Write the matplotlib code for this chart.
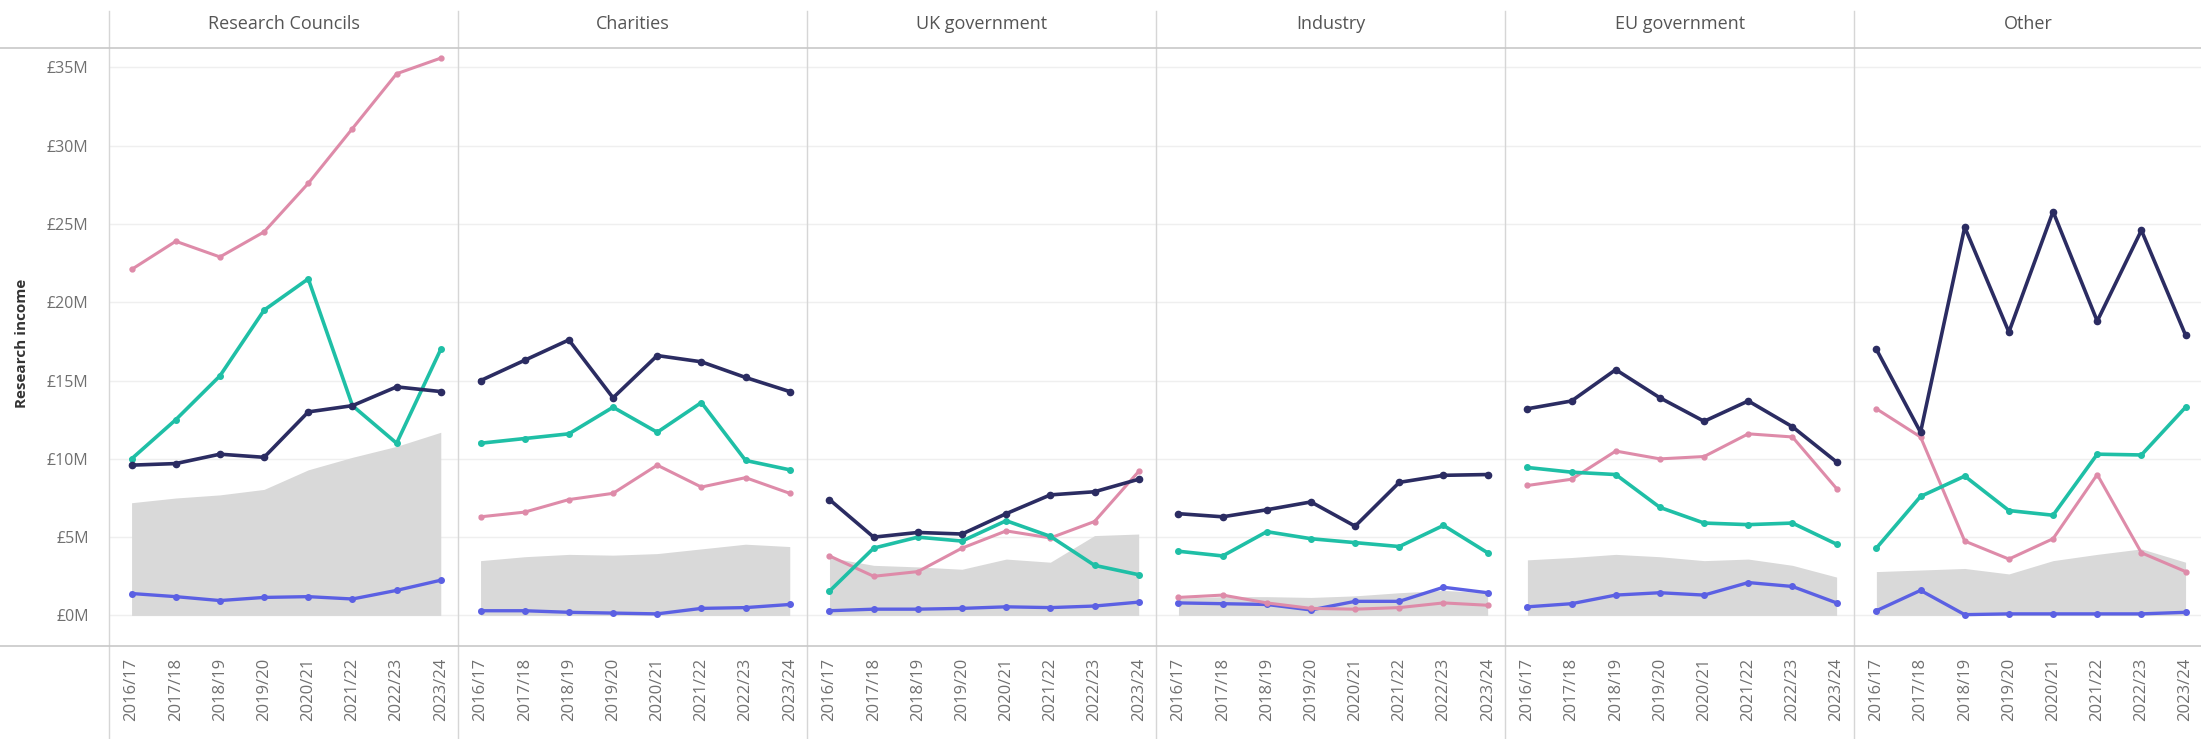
import matplotlib
matplotlib.use('Agg')
import matplotlib.pyplot as plt
from matplotlib.lines import Line2D

plt.rcParams['font.family'] = ['Open Sans', 'DejaVu Sans']

# Funding sources (one panel each) and years
panels = ['Research Councils', 'Charities', 'UK government', 'Industry', 'EU government', 'Other']
years = ['2016/17', '2017/18', '2018/19', '2019/20', '2020/21', '2021/22', '2022/23', '2023/24']

# Research income in £M, one list per panel (same order as panels)
pink_vals = [
    [22.1, 23.9, 22.9, 24.5, 27.6, 31.1, 34.6, 35.6],
    [6.3, 6.6, 7.4, 7.8, 9.6, 8.2, 8.8, 7.8],
    [3.8, 2.5, 2.8, 4.3, 5.4, 4.95, 6.0, 9.2],
    [1.15, 1.3, 0.8, 0.45, 0.4, 0.5, 0.8, 0.65],
    [8.3, 8.7, 10.5, 10.0, 10.15, 11.6, 11.4, 8.1],
    [13.2, 11.4, 4.75, 3.6, 4.9, 9.0, 4.0, 2.8],
]
teal_vals = [
    [10.0, 12.5, 15.3, 19.5, 21.5, 13.4, 11.0, 17.0],
    [11.0, 11.3, 11.6, 13.3, 11.7, 13.6, 9.9, 9.3],
    [1.55, 4.3, 5.0, 4.75, 6.05, 5.05, 3.2, 2.6],
    [4.1, 3.8, 5.35, 4.9, 4.65, 4.4, 5.75, 4.0],
    [9.45, 9.15, 9.0, 6.9, 5.9, 5.8, 5.9, 4.55],
    [4.3, 7.6, 8.9, 6.7, 6.4, 10.3, 10.25, 13.3],
]
navy_vals = [
    [9.6, 9.7, 10.3, 10.1, 13.0, 13.4, 14.6, 14.3],
    [15.0, 16.3, 17.6, 13.9, 16.6, 16.2, 15.2, 14.3],
    [7.4, 5.0, 5.3, 5.2, 6.5, 7.7, 7.9, 8.7],
    [6.5, 6.3, 6.75, 7.25, 5.7, 8.5, 8.95, 9.0],
    [13.2, 13.7, 15.7, 13.9, 12.4, 13.7, 12.05, 9.8],
    [17.0, 11.7, 24.8, 18.1, 25.8, 18.8, 24.6, 17.9],
]
blue_vals = [
    [1.4, 1.2, 0.95, 1.15, 1.2, 1.05, 1.6, 2.25],
    [0.3, 0.3, 0.2, 0.15, 0.1, 0.45, 0.5, 0.7],
    [0.3, 0.4, 0.4, 0.45, 0.55, 0.5, 0.6, 0.85],
    [0.8, 0.75, 0.7, 0.35, 0.9, 0.9, 1.8, 1.45],
    [0.55, 0.75, 1.3, 1.45, 1.3, 2.1, 1.85, 0.8],
    [0.3, 1.6, 0.05, 0.1, 0.1, 0.1, 0.1, 0.2],
]
# grey shaded area (benchmark)
area_vals = [
    [7.2, 7.5, 7.7, 8.05, 9.3, 10.1, 10.8, 11.7],
    [3.5, 3.75, 3.9, 3.85, 3.95, 4.25, 4.55, 4.4],
    [3.7, 3.2, 3.1, 2.95, 3.6, 3.4, 5.1, 5.2],
    [1.1, 1.2, 1.2, 1.15, 1.25, 1.45, 1.6, 1.45],
    [3.55, 3.7, 3.9, 3.75, 3.5, 3.6, 3.2, 2.45],
    [2.8, 2.9, 3.0, 2.65, 3.5, 3.9, 4.25, 3.4],
]
y_ticks = [0, 5, 10, 15, 20, 25, 30, 35]

x = list(range(len(years)))

fig = plt.figure(figsize=(22.01, 7.39), dpi=100)

# layout (figure fractions)
left0 = 78 / 1568
pw = 248.6 / 1568
bottom = 1 - 460 / 526
top = 1 - 34 / 526

for i, name in enumerate(panels):
    ax = fig.add_axes([left0 + i * pw, bottom, pw, top - bottom])
    ax.set_axisbelow(True)
    ax.fill_between(x, 0, area_vals[i], color='#d9d9d9', lw=0, zorder=1)
    ax.plot(x, blue_vals[i], '-o', color='#5b60e3', lw=2.4, ms=4, zorder=2)
    ax.plot(x, pink_vals[i], '-o', color='#de8ba9', lw=2.2, ms=3.5, zorder=3)
    ax.plot(x, teal_vals[i], '-o', color='#1fbfa6', lw=2.6, ms=4, zorder=4)
    ax.plot(x, navy_vals[i], '-o', color='#2b2c62', lw=2.6, ms=4.5, zorder=5)

    ax.set_xlim(-0.5, 7.4)
    ax.set_ylim(-1.97, 36.26)
    ax.set_yticks(y_ticks)
    ax.grid(axis='y', color='#efefef', lw=1)
    ax.set_xticks(x)
    ax.set_xticklabels(years, rotation=90, fontsize=12, color='#707070')
    ax.tick_params(axis='both', length=0)
    ax.tick_params(axis='x', pad=8)
    for s in ax.spines.values():
        s.set_visible(False)
    if i == 0:
        ax.set_yticklabels(['£%dM' % v for v in y_ticks], fontsize=11.5, color='#707070')
        ax.tick_params(axis='y', pad=15)
    else:
        ax.set_yticklabels([])

    fig.text(left0 + (i + 0.5) * pw, 1 - 17 / 526, name, ha='center', va='center',
             fontsize=13, color='#555555')

    # vertical divider
    fig.add_artist(Line2D([left0 + i * pw] * 2, [0, 0.985], transform=fig.transFigure,
                          color='#d6d6d6', lw=1))

# horizontal rules under header and at bottom of the plotting area
for yy in (top, bottom):
    fig.add_artist(Line2D([0, 1], [yy, yy], transform=fig.transFigure, color='#c8c8c8', lw=1.2))

fig.text(22 / 2201, 0.535, 'Research income', rotation=90, ha='center', va='center',
         fontsize=11, fontweight='bold', color='#333333')

fig.savefig('out.png', dpi=100)
